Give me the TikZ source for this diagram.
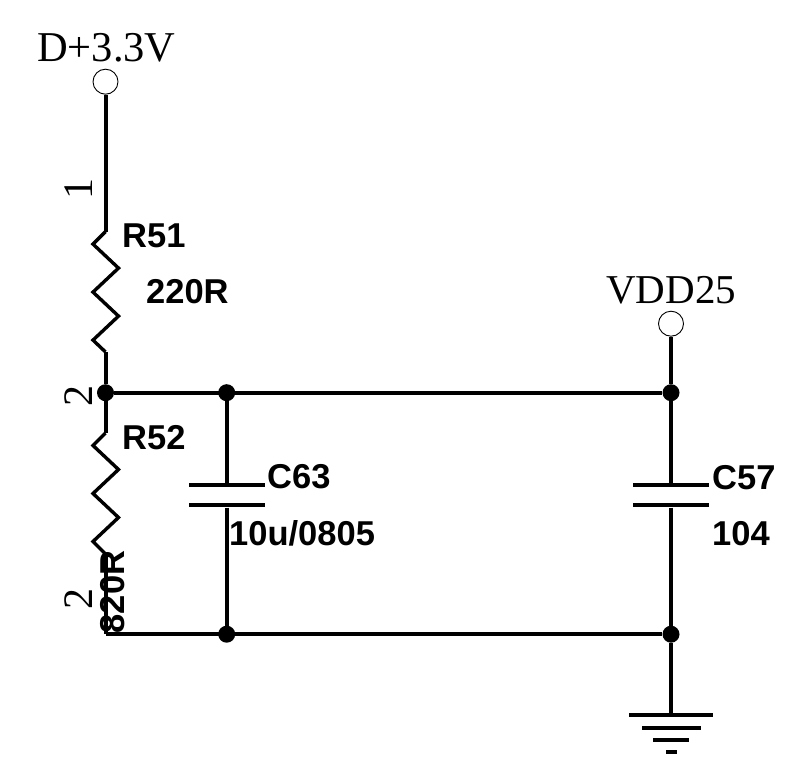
\documentclass[tikz,border=0pt]{standalone}
\usepackage{fontspec}
\setmainfont{Liberation Serif}
\setsansfont{Liberation Sans}

\newcommand{\zigzag}[2]{\draw[wire,line width=3.4pt] (#1) -- ++(-12.5,12.5) -- ++(25.5,24) -- ++(-25.5,24) -- ++(25.5,24) -- ++(-25.5,24) -- (#2);}

\begin{document}
\begin{tikzpicture}[x=1pt,y=-1pt,auto,node distance=100pt,
                      wire/.style={line width=4pt,line join=miter},
                      junction/.style={circle,fill=black,inner sep=0pt,minimum size=17pt},
                      terminal/.style={circle,draw,fill=white,line width=0.9pt,inner sep=0pt,minimum size=25pt},
                      plate/.style={rectangle,fill=black,inner sep=0pt,minimum height=4pt},
                      net label/.style={inner sep=0pt,anchor=base west,font=\fontsize{42.5}{43}\selectfont},
                      pin label/.style={inner sep=0pt,anchor=base,rotate=90,font=\fontsize{42}{43}\selectfont},
                      part label/.style={inner sep=0pt,anchor=base west,font=\sffamily\bfseries\fontsize{34.5}{35}\selectfont}]
    \useasboundingbox (0,0) rectangle (794,765);

    % Nodes
    \node[terminal] (vcc) at (105.5,81.7) {};
    \node[junction] (top1) [below of=vcc,node distance=311pt] {};
    \node[junction] (top2) [right of=top1,node distance=121.2pt] {};
    \node[junction] (top3) [right of=top2,node distance=444.3pt] {};
    \node[terminal] (vdd) [above of=top3,node distance=69pt] {};
    \node[junction] (bot2) [below of=top2,node distance=241.5pt] {};
    \node[junction] (bot3) [below of=top3,node distance=241.5pt] {};
    \coordinate (bot1) at (top1 |- bot2);

    % Resistor ends
    \coordinate (r51a) at (105.5,231.6);
    \coordinate (r51b) at (105.5,352);
    \coordinate (r52a) at (105.5,433);
    \coordinate (r52b) at (105.5,554);

    % Capacitor plates
    \node[plate,minimum width=76pt] (c63a) at (226.7,485.3) {};
    \node[plate,minimum width=76pt] (c63b) [below of=c63a,node distance=20pt] {};
    \node[plate,minimum width=76pt] (c57a) at (671,485.3) {};
    \node[plate,minimum width=76pt] (c57b) [below of=c57a,node distance=20pt] {};

    % Ground
    \node[plate,minimum width=84pt] (gnd1) at (671,715.3) {};
    \node[plate,minimum width=59pt] (gnd2) [below of=gnd1,node distance=12.2pt] {};
    \node[plate,minimum width=36pt] (gnd3) [below of=gnd2,node distance=12.2pt] {};
    \node[plate,minimum width=11pt] (gnd4) [below of=gnd3,node distance=12.2pt] {};

    % Labels
    \node[net label] (lblvcc) at (37,62) {D+3.3V};
    \node[net label,font=\fontsize{41}{43}\selectfont] (lblvdd) at (606,303) {VDD25};
    \node[pin label] (pin1) at (92.7,189) {1};
    \node[pin label] (pin2) at (92.7,396) {2};
    \node[pin label] (pin3) at (92.7,599) {2};
    \node[part label] (r51) at (122,247) {R51};
    \node[part label] (r51v) at (146,303) {220R};
    \node[part label] (r52) at (122,449) {R52};
    \node[part label,anchor=base,rotate=90] (r52v) at (124,592) {820R};
    \node[part label] (c63) at (267,488) {C63};
    \node[part label] (c63v) at (229,545) {10u/0805};
    \node[part label] (c57) at (712,489) {C57};
    \node[part label] (c57v) at (712,545) {104};

    % Paths
    \path[wire,draw]
      (vcc) edge (r51a)
      (r51b) edge (top1)
      (top1) edge (r52a)
      (r52b) edge (bot1)
      (top1) edge (top3)
      (bot1) edge (bot3)
      (top2) edge (c63a)
      (c63b) edge (bot2)
      (vdd) edge (top3)
      (top3) edge (c57a)
      (c57b) edge (bot3)
      (bot3) edge (gnd1);
    \zigzag{r51a}{r51b}
    \zigzag{r52a}{r52b}

  \end{tikzpicture}
\end{document}
